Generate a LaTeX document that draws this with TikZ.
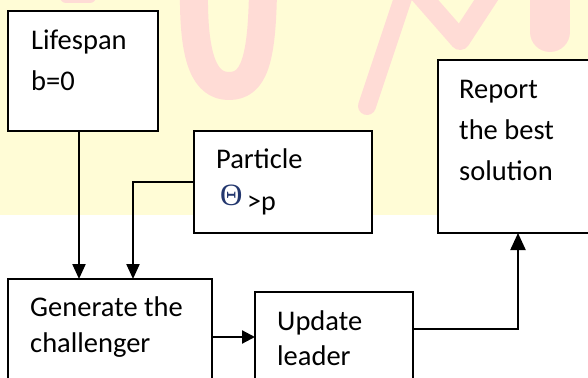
\documentclass[tikz,border=0pt]{standalone}
\usepackage{fontspec}
\setmainfont{Carlito}
\newfontfamily\thetafont{Liberation Serif}
\usetikzlibrary{arrows.meta}
\definecolor{bgyellow}{RGB}{255,252,214}
\definecolor{wmpink}{RGB}{255,220,214}
\definecolor{thetablue}{RGB}{35,55,110}
\begin{document}
\begin{tikzpicture}[x=1pt,y=-1pt,
  box/.style={draw=black, line width=1.6pt, fill=white, anchor=north west, inner sep=0pt, outer sep=0pt},
  conn/.style={line width=2.2pt},
  arr/.style={conn, -{Triangle[length=15pt,width=13pt]}},
  txt/.style={anchor=base west, inner sep=0pt, align=left, font=\fontsize{28.5pt}{41pt}\selectfont},
  wm/.style={draw=wmpink, line cap=round, line join=round}]
\clip (0,0) rectangle (588,377);
\fill[white] (0,0) rectangle (588,377);
\fill[bgyellow] (0,0) rectangle (588,215);
% watermark
\draw[wm, line width=12pt] (66,-3) -- (90,-3);
\draw[wm, line width=28pt] (194,-10) .. controls (193,60) and (205,86) .. (229,86) .. controls (254,86) and (262,60) .. (263,-10);
\draw[wm, line width=18pt] (367,106) -- (404,-5);
\draw[wm, line width=20pt] (418,-8) -- (460,40) -- (494,-12);
\draw[wm, line width=40pt] (550,-25) -- (550,32);
% boxes
\node[box, minimum width=150pt, minimum height=120pt] (life) at (8,11) {};
\node[box, minimum width=178pt, minimum height=102pt] (part) at (194,131) {};
\node[box, minimum width=170pt, minimum height=173pt] (rep) at (438,60) {};
\node[box, minimum width=204pt, minimum height=120pt] (gen) at (8,279) {};
\node[box, minimum width=158pt, minimum height=110pt] (upd) at (255,292) {};
% texts (base anchor = baseline of the last line)
\node[txt] (lifet) at (31,91) {Lifespan\\b=0};
\node[txt] (partt) at (216,168) {Particle};
\node[anchor=base west, inner sep=0pt, text=thetablue, font=\thetafont\fontsize{31pt}{31pt}\selectfont] (theta) at (220,205) {Θ};
\node[anchor=base west, inner sep=0pt, font=\fontsize{28pt}{28pt}\selectfont] (gtp) at (247,210) {>p};
\node[txt] (rept) at (459,180) {Report\\the best\\solution};
\node[txt, font=\fontsize{28.5pt}{36pt}\selectfont] (gent) at (30,352) {Generate the\\challenger};
\node[txt, font=\fontsize{28.5pt}{35pt}\selectfont] (updt) at (277,365) {Update\\leader};
% connectors
\draw[arr] ([xshift=-4pt]life.south) -- ([xshift=-4pt]life.south |- gen.north);
\draw[arr] (part.west) -| ([xshift=125pt]gen.north west);
\draw[conn, -{Triangle[length=13pt,width=13pt]}] ([yshift=-58pt]gen.north east) -- ([yshift=-58pt]gen.north east -| upd.west);
\draw[conn, -{Triangle[length=17pt,width=15pt]}] ([yshift=-37pt]upd.north east) -| ([xshift=80pt]rep.south west);
\end{tikzpicture}
\end{document}
